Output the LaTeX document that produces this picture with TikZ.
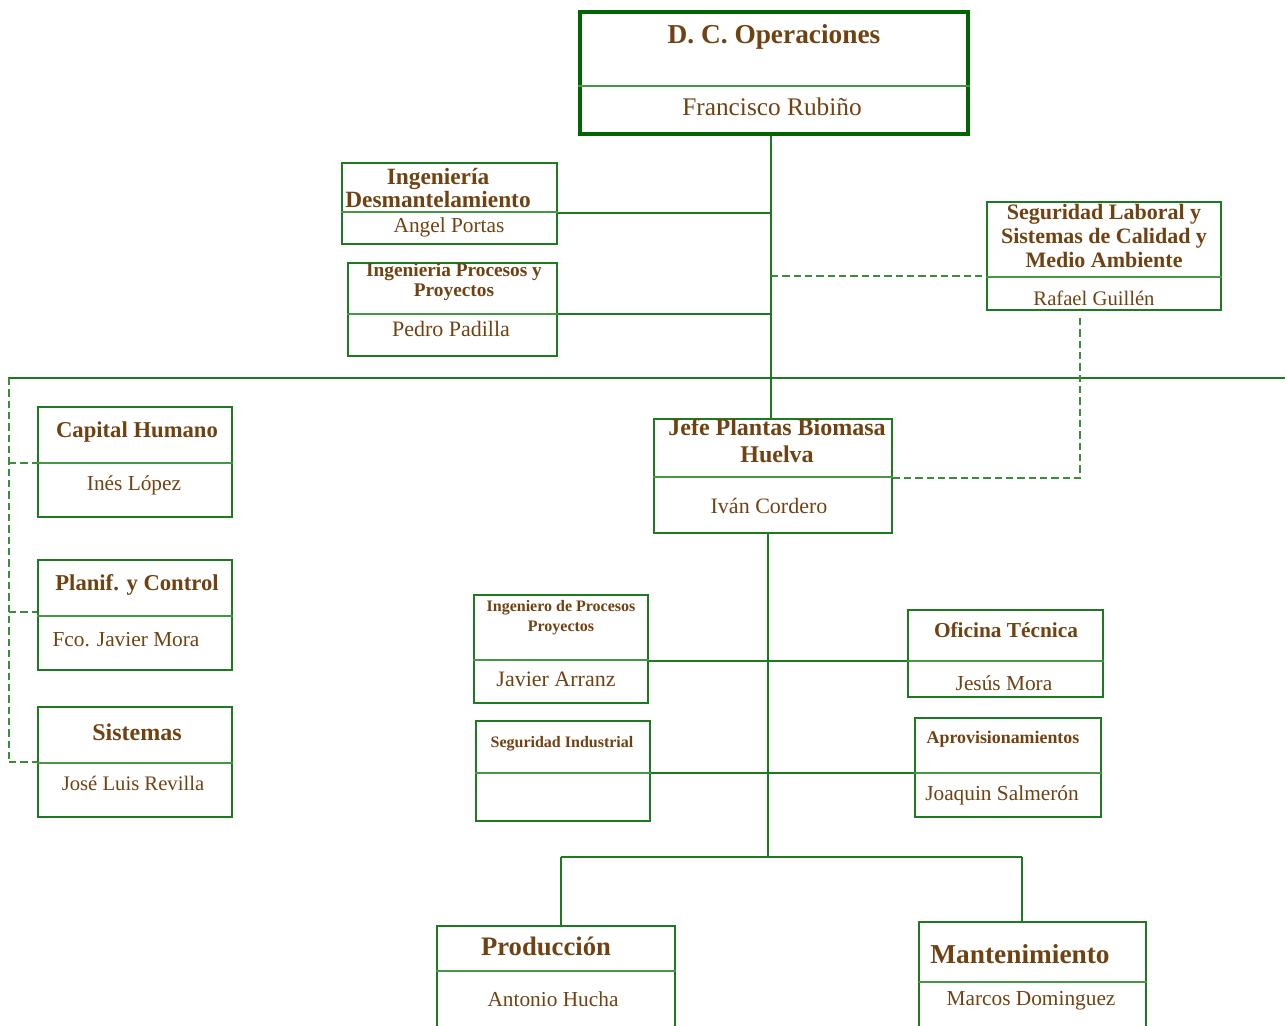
\documentclass[tikz,border=0pt]{standalone}
\usepackage{fontspec}
\setmainfont{Liberation Serif}
\usetikzlibrary{fit}
\definecolor{txt}{RGB}{112,66,18}
\definecolor{ln}{RGB}{30,122,30}
\definecolor{dv}{RGB}{70,150,70}
\definecolor{topln}{RGB}{0,100,0}
\definecolor{dash}{RGB}{60,140,60}
\newcommand\fsz[2]{\fontsize{#1}{#2}\selectfont}
\tikzset{
  box/.style={draw=ln, line width=1.6pt, inner sep=0pt},
  topbox/.style={draw=topln, line width=3.6pt, inner sep=0pt},
  div/.style={draw=dv, line width=1.5pt},
  link/.style={draw=ln, line width=1.5pt},
  dlink/.style={draw=dash, line width=1.5pt, dash pattern=on 5.5pt off 3pt},
  ttl/.style={text=txt, inner sep=0pt, align=center},
  nm/.style={text=txt, inner sep=0pt, align=center},
}
% one organisational unit: name, corners, height of the divider
\newcommand\orgunit[6]{%
  \node[box, fit={(#2,#3) (#4,#5)}] (#1) {};
  \draw[div] (#1.west |- 0,#6) -- (#1.east |- 0,#6);
}
\begin{document}
\begin{tikzpicture}[x=0.75pt, y=-0.75pt]
\useasboundingbox (0,0) rectangle (1287,1025);

% ---- head of operations
\node[topbox, fit={(580,12) (968,134)}] (ops) {};
\draw[div] (ops.west |- 0,86) -- (ops.east |- 0,86);
\node[ttl, font=\bfseries\fsz{20.5}{24}] (opsT) at (774,37) {D. C. Operaciones};
\node[nm, font=\fsz{19}{22}] (opsN) at (772,107) {Francisco Rubiño};

% ---- staff units next to the head
\orgunit{ingD}{342}{163}{557}{244}{212}
\node[ttl, font=\bfseries\fsz{17.5}{17.3}] (ingDT) at (438,188) {Ingeniería\\Desmantelamiento};
\node[nm, font=\fsz{16}{18}] (ingDN) at (449,227) {Angel Portas};

\orgunit{ingP}{348}{263}{557}{356}{314}
\node[ttl, font=\bfseries\fsz{14.5}{15}] (ingPT) at (454,282) {Ingenieria Procesos y\\Proyectos};
\node[nm, font=\fsz{16.5}{18}] (ingPN) at (451,329) {Pedro Padilla};

\orgunit{seg}{987}{202}{1221}{310}{277}
\node[ttl, font=\bfseries\fsz{16.5}{18}] (segT) at (1104,236) {Seguridad Laboral y\\Sistemas de Calidad y\\Medio Ambiente};
\node[nm, font=\fsz{15.5}{18}] (segN) at (1094,298) {Rafael Guillén};

% ---- support units on the left
\orgunit{cap}{38}{407}{232}{517}{463}
\node[ttl, font=\bfseries\fsz{17}{20}] (capT) at (137,432) {Capital Humano};
\node[nm, font=\fsz{16}{18}] (capN) at (134,485) {Inés López};

\orgunit{pla}{38}{560}{232}{670}{616}
\node[ttl, font=\bfseries\fsz{17}{20}] (plaT) at (137,585) {Planif. y Control};
\node[nm, font=\fsz{16}{18}] (plaN) at (126,640) {Fco. Javier Mora};

\orgunit{sis}{38}{707}{232}{817}{763}
\node[ttl, font=\bfseries\fsz{18}{20}] (sisT) at (137,732) {Sistemas};
\node[nm, font=\fsz{15.5}{18}] (sisN) at (133,783) {José Luis Revilla};

% ---- plant manager
\orgunit{jefe}{654}{419}{892}{533}{477}
\node[ttl, font=\bfseries\fsz{18}{20}] (jefeT) at (777,441) {Jefe Plantas Biomasa\\Huelva};
\node[nm, font=\fsz{16.5}{18}] (jefeN) at (769,506) {Iván Cordero};

% ---- plant staff
\orgunit{ingE}{474}{595}{648}{703}{660}
\node[ttl, font=\bfseries\fsz{12}{15}] (ingET) at (561,618) {Ingeniero de Procesos\\Proyectos};
\node[nm, font=\fsz{16.5}{18}] (ingEN) at (556,679) {Javier Arranz};

\orgunit{ofi}{908}{610}{1103}{697}{661}
\node[ttl, font=\bfseries\fsz{16}{18}] (ofiT) at (1006,630) {Oficina Técnica};
\node[nm, font=\fsz{16}{18}] (ofiN) at (1004,683) {Jesús Mora};

\orgunit{segI}{476}{721}{650}{821}{773}
\node[ttl, font=\bfseries\fsz{12}{15}] (segIT) at (562,744) {Seguridad Industrial};

\orgunit{apr}{915}{718}{1101}{817}{773}
\node[ttl, font=\bfseries\fsz{13.4}{16}] (aprT) at (1003,739) {Aprovisionamientos};
\node[nm, font=\fsz{16}{18}] (aprN) at (1002,795) {Joaquin Salmerón};

% ---- plant departments
\orgunit{prod}{437}{926}{675}{1045}{971}
\node[ttl, font=\bfseries\fsz{20}{22}] (prodT) at (546,946) {Producción};
\node[nm, font=\fsz{16}{18}] (prodN) at (553,999) {Antonio Hucha};

\orgunit{mant}{919}{922}{1146}{1045}{982}
\node[ttl, font=\bfseries\fsz{20.5}{22}] (mantT) at (1020,954) {Mantenimiento};
\node[nm, font=\fsz{16}{18}] (mantN) at (1031,1001) {Marcos Dominguez};

% ---- junction points
\coordinate (busL) at (8,378);
\coordinate (busR) at (1285,378);
\coordinate (busM) at (771,378);
\coordinate (lftB) at (9,762);
\coordinate (segD) at (1080,318);
\coordinate (segC) at (1080,478);
\coordinate (dBus) at (768,857);
\coordinate (dBusL) at (561,857);
\coordinate (dBusR) at (1022,857);

% ---- solid reporting lines
\draw[link] (ops.south -| busM) -- (busM);
\draw[link] (busL) -- (busR);
\draw[link] (busM) -- (jefe.north -| busM);
\draw[link] (ingD.east |- 0,213) -- (busM |- 0,213);
\draw[link] (ingP.east |- 0,314) -- (busM |- 0,314);
\draw[link] (jefe.south -| dBus) -- (dBus);
\draw[link] (dBusL) -- (dBusR);
\draw[link] (dBusL) -- (prod.north -| dBusL);
\draw[link] (dBusR) -- (mant.north -| dBusR);
\draw[link] (ingE.east |- 0,661) -- (ofi.west |- 0,661);
\draw[link] (segI.east |- 0,773) -- (apr.west |- 0,773);

% ---- dashed functional lines
\draw[dlink] (busM |- 0,276) -- (seg.west |- 0,276);
\draw[dlink] (segD) -- (segC) -- (jefe.east |- segC);
\draw[dlink] (9,378) -- (lftB);
\draw[dlink] (9,463) -- (cap.west |- 0,463);
\draw[dlink] (9,612) -- (pla.west |- 0,612);
\draw[dlink] (lftB) -- (sis.west |- lftB);
\end{tikzpicture}
\end{document}
